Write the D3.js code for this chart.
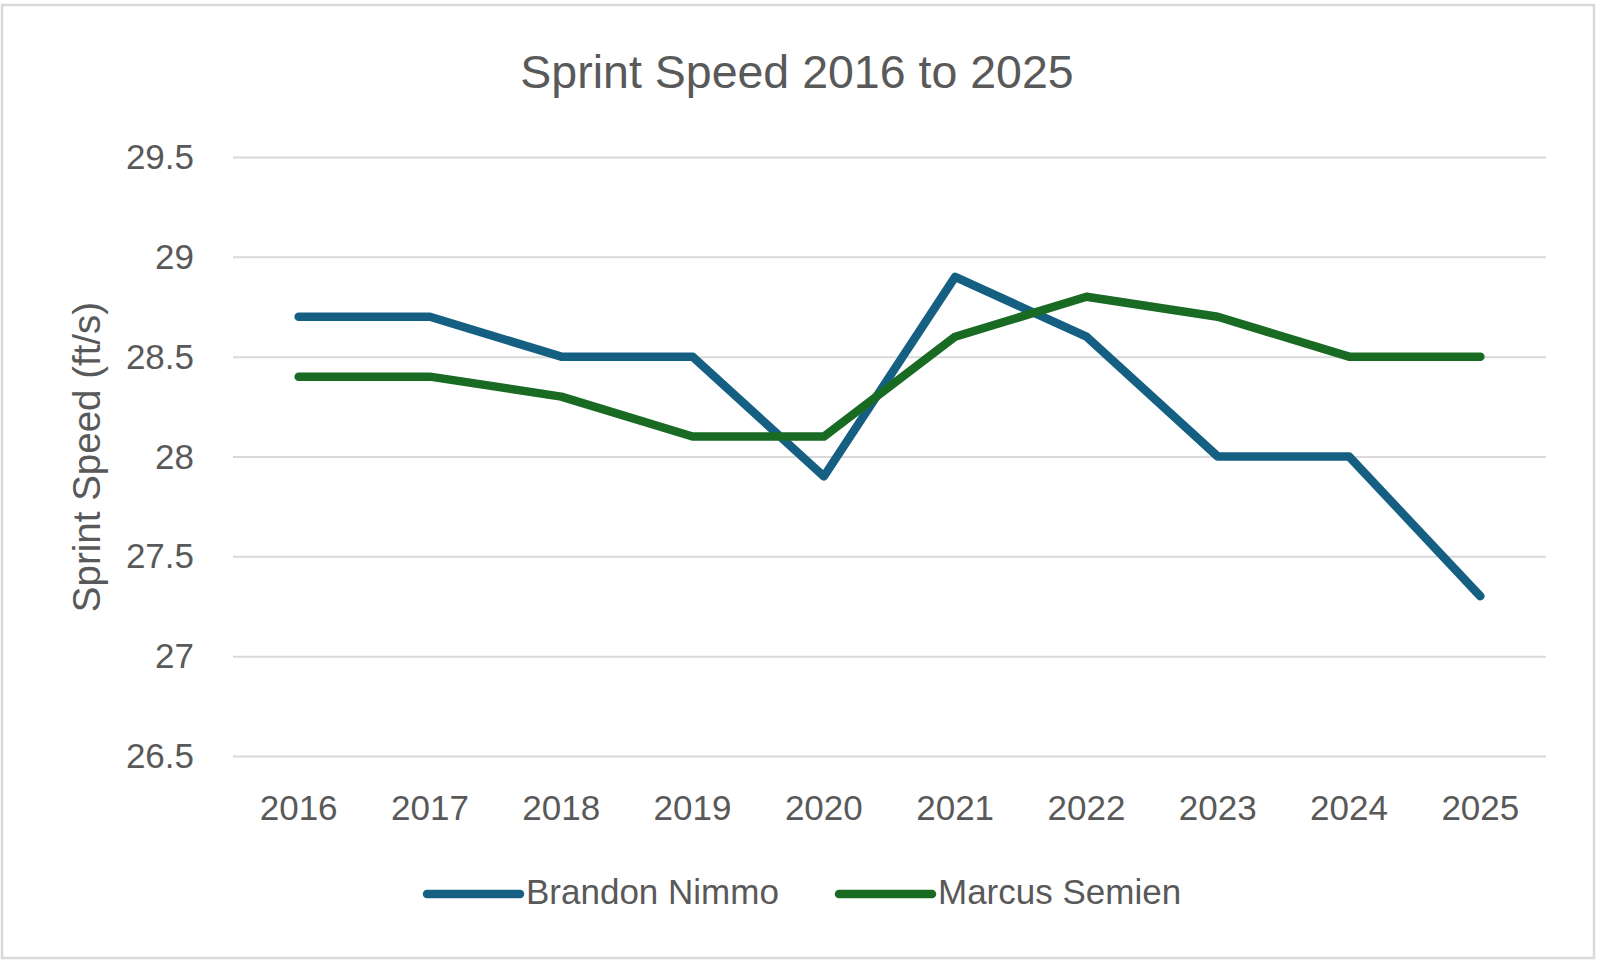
<html>
<head>
    <title>Sprint Speed 2016 to 2025</title>
    <script src="https://d3js.org/d3.v7.min.js"></script>
    <style>
        body { margin: 0; background: #fff; }
        text { font-family: "Liberation Sans", Arial, sans-serif; fill: #595959; }
        .grid line { stroke: #d9d9d9; stroke-width: 2; }
        .grid path { display: none; }
    </style>
</head>
<body>
<div id="vis_container"></div>
<script>
    var years = ["2016","2017","2018","2019","2020","2021","2022","2023","2024","2025"];
    var nimmo = [28.7, 28.7, 28.5, 28.5, 27.9, 28.9, 28.6, 28.0, 28.0, 27.3];
    var semien = [28.4, 28.4, 28.3, 28.1, 28.1, 28.6, 28.8, 28.7, 28.5, 28.5];
    var yTicks = [26.5, 27, 27.5, 28, 28.5, 29, 29.5];
    var seriesNames = ["Brandon Nimmo", "Marcus Semien"];
    var seriesColors = ["#156082", "#196b24"];

    var width = 1600, height = 967;
    // plot area (window.top is reserved, so use other names)
    var plotLeft = 233, plotRight = 1546, plotTop = 157, plotBottom = 756;

    var svg = d3.select("#vis_container").append("svg")
            .attr("width", width)
            .attr("height", height);

    // chart border
    svg.append("rect")
            .attr("x", 2).attr("y", 5)
            .attr("width", 1592).attr("height", 953)
            .attr("fill", "none")
            .attr("stroke", "#d9d9d9")
            .attr("stroke-width", 2.5);

    var x = d3.scaleBand().domain(years).range([plotLeft, plotRight]);
    var y = d3.scaleLinear().domain([26.5, 29.5]).range([plotBottom, plotTop]);

    // horizontal gridlines
    svg.append("g")
            .attr("class", "grid")
            .attr("transform", "translate(" + plotLeft + ",0)")
            .call(d3.axisLeft(y).tickValues(yTicks).tickSize(-(plotRight - plotLeft)).tickFormat(""));

    // y tick labels
    svg.selectAll(".ylab").data(yTicks).enter().append("text")
            .attr("class", "ylab")
            .attr("x", 194)
            .attr("y", function(d) { return y(d) + 12; })
            .attr("text-anchor", "end")
            .style("font-size", "35px")
            .text(function(d) { return d; });

    // x tick labels
    svg.selectAll(".xlab").data(years).enter().append("text")
            .attr("class", "xlab")
            .attr("x", function(d) { return x(d) + x.bandwidth() / 2; })
            .attr("y", 820)
            .attr("text-anchor", "middle")
            .style("font-size", "35px")
            .text(function(d) { return d; });

    // title
    svg.append("text")
            .attr("x", 797)
            .attr("y", 88)
            .attr("text-anchor", "middle")
            .style("font-size", "46.5px")
            .text("Sprint Speed 2016 to 2025");

    // y axis title
    svg.append("text")
            .attr("transform", "translate(100,457) rotate(-90)")
            .attr("text-anchor", "middle")
            .style("font-size", "38.5px")
            .text("Sprint Speed (ft/s)");

    var line = d3.line()
            .x(function(d, i) { return x(years[i]) + x.bandwidth() / 2; })
            .y(function(d) { return y(d); });

    [nimmo, semien].forEach(function(vals, k) {
        svg.append("path")
                .datum(vals)
                .attr("d", line)
                .attr("fill", "none")
                .attr("stroke", seriesColors[k])
                .attr("stroke-width", 8.5)
                .attr("stroke-linecap", "round")
                .attr("stroke-linejoin", "round");
    });

    // legend
    var legendX = [427, 839];
    seriesNames.forEach(function(name, k) {
        svg.append("line")
                .attr("x1", legendX[k]).attr("x2", legendX[k] + 93)
                .attr("y1", 894).attr("y2", 894)
                .attr("stroke", seriesColors[k])
                .attr("stroke-width", 8.5)
                .attr("stroke-linecap", "round");
        svg.append("text")
                .attr("x", legendX[k] + 99)
                .attr("y", 904)
                .style("font-size", "35px")
                .text(name);
    });
</script>
</body>
</html>
